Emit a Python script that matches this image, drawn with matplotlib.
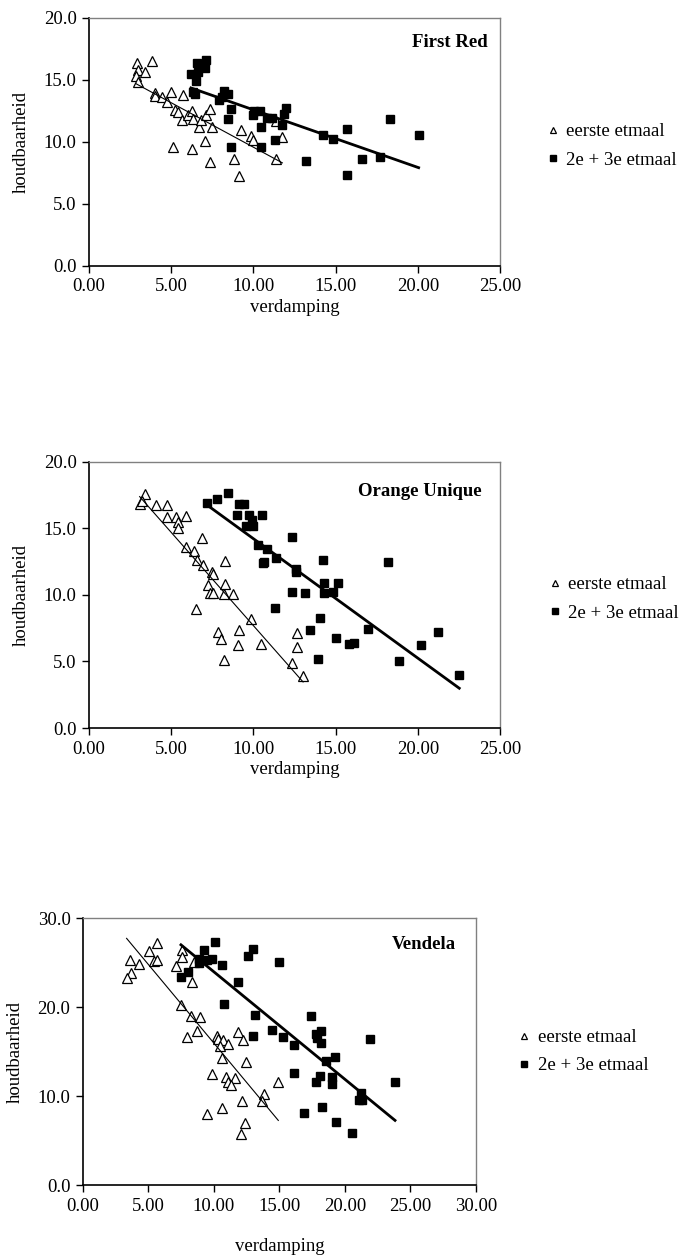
import matplotlib
matplotlib.use("Agg")
import matplotlib.pyplot as plt
from matplotlib.ticker import FormatStrFormatter, MultipleLocator
import numpy as np

plt.rcParams['font.family'] = ['Liberation Serif', 'DejaVu Serif']

# First Red
fr_x1 = [2.94, 3.00, 2.84, 3.00, 3.39, 3.85, 3.99, 3.99, 4.42, 4.74, 4.99, 5.74,
         5.23, 5.41, 5.13, 5.68, 6.00, 6.24, 6.35, 6.24, 6.69, 6.79, 7.14, 7.36,
         7.46, 7.08, 7.38, 9.27, 9.85, 9.96, 8.80, 9.10, 11.37, 11.76, 11.36]
fr_y1 = [16.35, 15.80, 15.35, 14.86, 15.67, 16.56, 13.98, 13.71, 13.65, 13.23, 14.06, 13.79,
         12.58, 12.42, 9.57, 11.77, 12.15, 12.53, 11.88, 9.46, 11.18, 11.77, 12.18, 12.69,
         11.24, 10.10, 8.36, 10.97, 10.48, 10.16, 8.60, 7.28, 8.65, 10.43, 11.72]
fr_x2 = [6.59, 7.10, 7.04, 6.65, 6.20, 6.51, 6.31, 6.45, 7.91, 8.21, 8.48, 8.07,
         8.62, 8.48, 8.62, 10.04, 10.38, 9.98, 10.81, 11.13, 10.48, 10.48, 11.72, 11.86,
         12.00, 11.31, 13.22, 14.25, 14.86, 15.67, 15.67, 16.59, 17.70, 18.33, 20.05]
fr_y2 = [16.40, 16.61, 15.94, 15.67, 15.46, 14.92, 14.06, 13.85, 13.39, 14.11, 13.85, 13.66,
         12.63, 11.83, 9.62, 12.53, 12.53, 12.15, 11.91, 11.91, 11.24, 9.57, 11.37, 12.26,
         12.74, 10.16, 8.47, 10.56, 10.27, 11.05, 7.34, 8.65, 8.76, 11.85, 10.54]

# Orange Unique
ou_x1 = [3.39, 3.08, 3.20, 4.08, 4.72, 4.72, 5.31, 5.92, 5.43, 5.43, 6.85, 5.92,
         6.41, 6.59, 6.91, 8.25, 7.48, 7.54, 7.24, 8.29, 7.36, 7.56, 8.21, 8.74,
         6.53, 9.85, 7.83, 8.05, 9.10, 9.04, 10.46, 8.19, 12.65, 12.65, 12.35, 13.02]
ou_y1 = [17.59, 16.84, 17.05, 16.77, 16.77, 15.89, 15.89, 15.94, 15.51, 15.06, 14.31, 13.63,
         13.33, 12.63, 12.26, 12.58, 11.75, 11.58, 10.75, 10.80, 10.12, 10.12, 10.05, 10.05,
         8.97, 8.17, 7.24, 6.67, 7.34, 6.27, 6.34, 5.11, 7.17, 6.11, 4.91, 3.91]
ou_x2 = [7.18, 7.79, 8.48, 9.12, 9.43, 9.00, 9.75, 10.54, 9.89, 9.53, 9.98, 12.37,
         10.28, 10.81, 10.58, 10.62, 11.39, 12.61, 12.61, 14.25, 18.17, 14.31, 15.17, 12.37,
         13.14, 14.31, 14.86, 11.31, 14.03, 13.42, 15.00, 15.84, 16.14, 16.95, 13.93, 18.84,
         20.19, 21.25, 22.52]
ou_y2 = [16.92, 17.19, 17.65, 16.82, 16.82, 16.02, 16.02, 16.02, 15.64, 15.19, 15.19, 14.39,
         13.76, 13.46, 12.38, 12.45, 12.76, 11.95, 11.70, 12.63, 12.46, 10.88, 10.88, 10.20,
         10.12, 10.12, 10.20, 9.02, 8.27, 7.34, 6.79, 6.32, 6.42, 7.42, 5.19, 5.01,
         6.24, 7.24, 3.98]

# Vendela
ve_x1 = [5.65, 5.04, 3.61, 4.27, 5.39, 5.65, 3.64, 3.33, 7.58, 7.53, 7.07, 8.47,
         8.32, 7.51, 8.22, 8.96, 8.70, 7.96, 10.23, 10.31, 10.71, 11.07, 10.43, 11.86,
         12.24, 10.64, 12.42, 9.82, 10.89, 11.60, 11.09, 11.27, 14.91, 13.84, 13.66, 12.14,
         10.64, 9.49, 12.39, 12.06]
ve_y1 = [27.23, 26.29, 25.28, 24.83, 25.17, 25.28, 23.78, 23.22, 26.37, 25.62, 24.61, 25.02,
         22.77, 20.22, 19.03, 18.84, 17.30, 16.67, 16.78, 16.40, 16.29, 15.84, 15.66, 17.23,
         16.29, 14.23, 13.86, 12.43, 12.17, 12.02, 11.54, 11.24, 11.54, 10.19, 9.44, 9.44,
         8.65, 7.98, 6.93, 5.73]
ve_x2 = [10.08, 9.26, 8.85, 8.83, 9.47, 9.87, 10.59, 8.04, 7.48, 12.98, 12.62, 14.94,
         11.81, 10.79, 13.16, 17.43, 13.00, 14.43, 15.29, 16.11, 17.76, 18.14, 17.89, 18.14,
         21.88, 18.58, 19.21, 16.11, 18.07, 17.81, 19.03, 19.03, 23.82, 21.20, 21.04, 21.32,
         18.22, 16.90, 19.31, 20.53]
ve_y2 = [27.34, 26.37, 25.39, 24.91, 25.28, 25.36, 24.68, 23.90, 23.41, 26.52, 25.73, 25.09,
         22.85, 20.34, 19.06, 18.95, 16.74, 17.38, 16.59, 15.69, 16.93, 17.34, 16.48, 15.92,
         16.44, 13.97, 14.34, 12.55, 12.28, 11.61, 12.13, 11.38, 11.61, 10.30, 9.55, 9.55,
         8.73, 8.06, 7.04, 5.88]

names = ["First Red", "Orange Unique", "Vendela"]
series = [(fr_x1, fr_y1, fr_x2, fr_y2),
          (ou_x1, ou_y1, ou_x2, ou_y2),
          (ve_x1, ve_y1, ve_x2, ve_y2)]
xmax = [25, 25, 30]
ymax = [20, 20, 30]
ystep = [5, 5, 10]

# axes boxes in figure fractions, legend anchors, title spots, x label padding
boxes = [[0.1311, 0.7886, 0.6053, 0.1971],
         [0.1311, 0.4213, 0.6053, 0.2115],
         [0.1222, 0.0580, 0.5788, 0.2122]]
leg_pos = [(0.806, 0.884), (0.809, 0.524), (0.764, 0.164)]
title_pos = [(0.97, 0.90), (0.955, 0.89), (0.95, 0.90)]
xpad = [2.5, 2.5, 17]

FS = 13.5


def trend(x, y):
    a, b = np.polyfit(x, y, 1)
    xs = np.array([min(x), max(x)])
    return xs, a * xs + b


def main():
    fig = plt.figure(figsize=(6.79, 12.58), dpi=100)
    for i in range(3):
        ax = fig.add_axes(boxes[i])
        x1, y1, x2, y2 = series[i]
        ax.plot(x1, y1, linestyle='none', marker='^', markersize=6.5,
                markerfacecolor='white', markeredgecolor='black',
                markeredgewidth=0.9, label='eerste etmaal')
        ax.plot(x2, y2, linestyle='none', marker='s', markersize=5.8,
                markerfacecolor='black', markeredgecolor='black',
                label='2e + 3e etmaal')
        tx, ty = trend(x1, y1)
        ax.plot(tx, ty, color='black', linewidth=0.8)
        tx, ty = trend(x2, y2)
        ax.plot(tx, ty, color='black', linewidth=2.0)

        ax.set_xlim(0, xmax[i])
        ax.set_ylim(0, ymax[i])
        ax.xaxis.set_major_locator(MultipleLocator(5))
        ax.yaxis.set_major_locator(MultipleLocator(ystep[i]))
        ax.xaxis.set_major_formatter(FormatStrFormatter('%.2f'))
        ax.yaxis.set_major_formatter(FormatStrFormatter('%.1f'))
        ax.tick_params(direction='out', length=5, width=1.0, labelsize=FS, pad=4)

        for s in ['top', 'right']:
            ax.spines[s].set_color('#808080')
            ax.spines[s].set_linewidth(1.0)
        for s in ['left', 'bottom']:
            ax.spines[s].set_color('black')
            ax.spines[s].set_linewidth(1.2)

        ax.set_xlabel('verdamping', fontsize=FS, labelpad=xpad[i])
        ax.set_ylabel('houdbaarheid', fontsize=FS, labelpad=10)
        ax.text(title_pos[i][0], title_pos[i][1], names[i], transform=ax.transAxes,
                ha='right', va='center', fontsize=FS, fontweight='bold')

        ax.legend(loc='center left', bbox_to_anchor=leg_pos[i],
                  bbox_transform=fig.transFigure, frameon=False, fontsize=FS,
                  handlelength=0.6, handletextpad=0.4, markerscale=0.75,
                  borderpad=0, borderaxespad=0, labelspacing=0.6)

    fig.savefig('out.png', dpi=100)


if __name__ == "__main__":
    main()
